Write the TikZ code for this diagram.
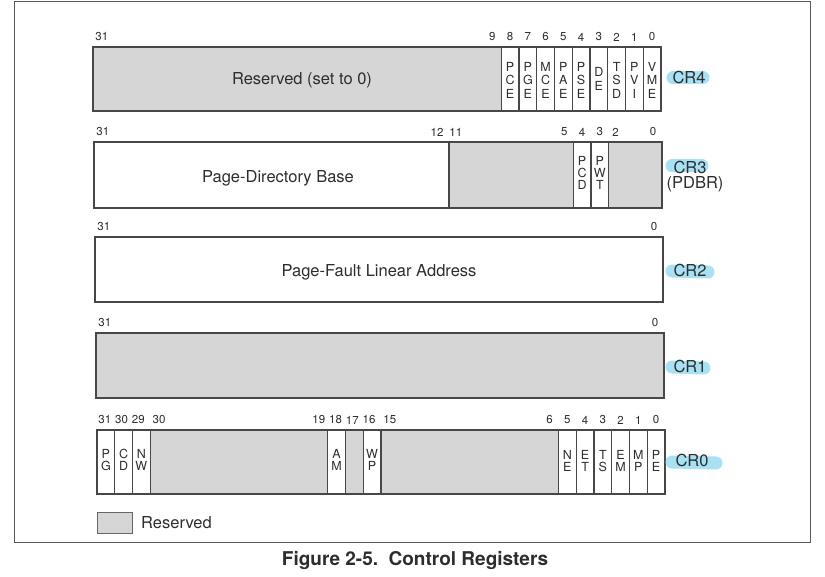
\documentclass[tikz,border=0pt]{standalone}
\usepackage{fontspec}
\setmainfont{TeX Gyre Heros}
\definecolor{hlcyan}{RGB}{168,224,244}
\definecolor{inkgray}{RGB}{45,45,45}
\definecolor{resvgray}{RGB}{214,214,214}

% width of one bit cell
\def\bw{17.75}
% \rfill{hi}{lo}{height}: shaded reserved span from bit hi down to bit lo
\newcommand\rfill[3]{\fill[resv] ({\bw*(31-#1)},0) rectangle ({\bw*(32-#2)},#3);}
% \rsep{k}{height}: divider on the right edge of bit k
\newcommand\rsep[2]{\draw[regline] ({\bw*(32-#1)},0) -- ({\bw*(32-#1)},#2);}
% \blab{name}{bit}{dx}{text}: bit number above a cell
\newcommand\blab[4]{\node[bitnum] (#1) at ({\bw*(31.5-#2)+#3},-10) {#4};}
% \flg[opts]{name}{bit}{y}{letters}: stacked flag name inside a cell
\newcommand\flg[5][]{\node[flagtxt,#1] (#2) at ({\bw*(31.5-#3)},#4) {#5};}

\begin{document}
\begin{tikzpicture}[x=1pt,y=-1pt,
  regline/.style={draw=black!72, line width=1.1pt},
  resv/.style={fill=resvgray},
  bitnum/.style={font=\fontsize{11.5}{11.5}\selectfont, text=inkgray, inner sep=0pt},
  flagtxt/.style={font=\fontsize{12.5}{13.5}\selectfont, align=center, inner sep=0pt, text=inkgray},
  tight/.style={font=\fontsize{12.5}{12}\selectfont},
  fieldtxt/.style={font=\fontsize{16.5}{18}\selectfont, inner sep=0pt, text=inkgray},
  crname/.style={font=\fontsize{16.5}{18}\selectfont, inner sep=0pt, text=inkgray},
  hilite/.style={draw=hlcyan, line width=13pt, line cap=round},
]
\useasboundingbox (0,0) rectangle (825,577);

% outer frame
\draw[line width=1pt, black!65] (14,1.5) rectangle (810,542);

% ---------------- CR4 ----------------
\begin{scope}[shift={(93,47)}]
  \rfill{31}{9}{64}
  \draw[regline] (0,0) rectangle (568,64);
  \foreach \k in {9,...,1} {\rsep{\k}{64}}
  \node[fieldtxt] (cr4res) at (209,33) {Reserved (set to 0)};
  \flg{pce}{8}{33}{P\\C\\E}
  \flg{pge}{7}{33}{P\\G\\E}
  \flg{mce}{6}{33}{M\\C\\E}
  \flg{pae}{5}{33}{P\\A\\E}
  \flg{pse}{4}{33}{P\\S\\E}
  \flg{de}{3}{32}{D\\E}
  \flg{tsd}{2}{33}{T\\S\\D}
  \flg{pvi}{1}{33}{P\\V\\I}
  \flg{vme}{0}{33}{V\\M\\E}
  \blab{a31}{31}{0}{31}
  \foreach \k in {9,...,0} {\blab{a\k}{\k}{0}{\k}}
\end{scope}

% ---------------- CR3 ----------------
\begin{scope}[shift={(94,142)}]
  \rfill{11}{5}{66}
  \rfill{2}{0}{66}
  \draw[regline] (0,0) rectangle (568,66);
  \rsep{12}{66}
  \rsep{5}{66}
  \rsep{4}{66}
  \rsep{3}{66}
  \node[fieldtxt] (pdb) at (184,36) {Page-Directory Base};
  \flg[tight]{pcd}{4}{31}{P\\C\\D}
  \flg[tight]{pwt}{3}{31}{P\\W\\T}
  \blab{b31}{31}{0}{31}
  \blab{b12}{12}{-3}{12}
  \blab{b11}{11}{-2}{11}
  \blab{b5}{5}{0}{5}
  \blab{b4}{4}{0}{4}
  \blab{b3}{3}{0}{3}
  \blab{b2}{2}{-2}{2}
  \blab{b0}{0}{0}{0}
\end{scope}

% ---------------- CR2 ----------------
\begin{scope}[shift={(95,237)}]
  \draw[regline] (0,0) rectangle (568,65);
  \node[fieldtxt] (pfla) at (284,35) {Page-Fault Linear Address};
  \blab{c31}{31}{0}{31}
  \blab{c0}{0}{0}{0}
\end{scope}

% ---------------- CR1 ----------------
\begin{scope}[shift={(96,333)}]
  \rfill{31}{0}{65}
  \draw[regline] (0,0) rectangle (568,65);
  \blab{d31}{31}{0}{31}
  \blab{d0}{0}{0}{0}
\end{scope}

% ---------------- CR0 ----------------
\begin{scope}[shift={(97,430)}]
  \rfill{28}{19}{64}
  \rfill{17}{17}{64}
  \rfill{15}{6}{64}
  \draw[regline] (0,0) rectangle (568,64);
  \foreach \k in {31,30,29,19,18,17,16,6,5,4,3,2,1} {\rsep{\k}{64}}
  \flg[tight]{pg}{31}{30}{P\\G}
  \flg[tight]{cd}{30}{30}{C\\D}
  \flg[tight]{nw}{29}{30}{N\\W}
  \flg[tight]{am}{18}{30}{A\\M}
  \flg[tight]{wp}{16}{30}{W\\P}
  \flg[tight]{ne}{5}{31}{N\\E}
  \flg[tight]{et}{4}{31}{E\\T}
  \flg[tight]{ts}{3}{31}{T\\S}
  \flg[tight]{em}{2}{31}{E\\M}
  \flg[tight]{mp}{1}{31}{M\\P}
  \flg[tight]{pe}{0}{31}{P\\E}
  \blab{e31}{31}{-1}{31}
  \blab{e30}{30}{-2}{30}
  \blab{e29}{29}{-3}{29}
  \blab{e28}{28}{0}{30}
  \blab{e19}{19}{0}{19}
  \blab{e18}{18}{-1}{18}
  \blab{e17}{17}{-2}{17}
  \blab{e16}{16}{-3}{16}
  \blab{e15}{15}{0}{15}
  \foreach \k in {6,...,0} {\blab{e\k}{\k}{0}{\k}}
\end{scope}

% register names with marker highlights
\draw[hilite] (673,78) -- (703,78);
\draw[hilite] (672,166) -- (702,166);
\draw[hilite] (672,271) -- (708,272);
\draw[hilite] (672,367) -- (704,368);
\draw[hilite] (672,462) -- (716,463);
\node[crname] (cr4) at (689,77) {CR4};
\node[crname] (cr3) at (690,167) {CR3};
\node[crname] (pdbr) at (695,184) {(PDBR)};
\node[crname] (cr2) at (690,270) {CR2};
\node[crname] (cr1) at (690,366) {CR1};
\node[crname] (cr0) at (692,460) {CR0};

% legend
\draw[resv, draw=black!60, line width=0.8pt] (97,512) rectangle (132,533);
\node[fieldtxt, anchor=west] (legend) at (141,523) {Reserved};

% caption
\node[font=\bfseries\fontsize{19}{21}\selectfont, text=inkgray, inner sep=0pt] (caption) at (415,560) {Figure 2-5.\ \ Control Registers};
\end{tikzpicture}
\end{document}
